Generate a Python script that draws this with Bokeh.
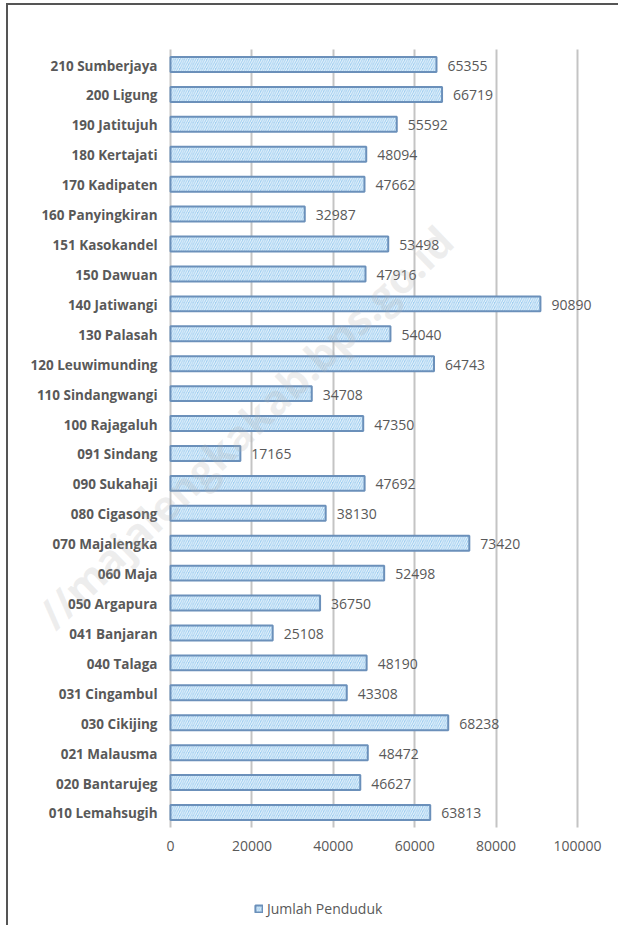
from bokeh.plotting import figure
from bokeh.models import (Range1d, Legend, LegendItem, Label,
                          FixedTicker, ColumnDataSource, BasicTickFormatter)
from bokeh.core.properties import value
from bokeh.embed import file_html
from bokeh.resources import INLINE

# ---- data (top to bottom as in the chart) ----
kecamatan = [
    "210 Sumberjaya", "200 Ligung", "190 Jatitujuh", "180 Kertajati",
    "170 Kadipaten", "160 Panyingkiran", "151 Kasokandel", "150 Dawuan",
    "140 Jatiwangi", "130 Palasah", "120 Leuwimunding", "110 Sindangwangi",
    "100 Rajagaluh", "091 Sindang", "090 Sukahaji", "080 Cigasong",
    "070 Majalengka", "060 Maja", "050 Argapura", "041 Banjaran",
    "040 Talaga", "031 Cingambul", "030 Cikijing", "021 Malausma",
    "020 Bantarujeg", "010 Lemahsugih",
]
jumlah_penduduk = [
    65355, 66719, 55592, 48094,
    47662, 32987, 53498, 47916,
    90890, 54040, 64743, 34708,
    47350, 17165, 47692, 38130,
    73420, 52498, 36750, 25108,
    48190, 43308, 68238, 48472,
    46627, 63813,
]
x_ticks = [0, 20000, 40000, 60000, 80000, 100000]
series_name = "Jumlah Penduduk"
watermark = "//majalengkakab.bps.go.id"

FONT = "Open Sans"
GREY = "#595959"

cats = kecamatan[::-1]           # bottom to top
vals = jumlah_penduduk[::-1]
pos = list(range(len(cats)))     # category slots, bottom = 0
src = ColumnDataSource(dict(y=pos, cat=cats, val=vals, txt=[str(v) for v in vals]))

p = figure(
    x_range=Range1d(-39803, 110566),
    y_range=Range1d(-3.844, 26.972),
    width=612, height=922,
    min_border=0,
    output_backend="svg", toolbar_location=None,
    styles={"border-top": "2px solid #555555", "border-left": "2px solid #555555",
            "margin-left": "6px", "margin-top": "3px"},
)
p.outline_line_color = None
p.background_fill_color = "white"

bars = p.hbar(
    y="y", right="val", left=0, height=0.5, source=src,
    fill_color="#9fcdef", line_color="#6b90ba", line_width=2,
    hatch_pattern="right_diagonal_line", hatch_color="#eef7fd",
    hatch_weight=1, hatch_scale=4.5,
)

# value labels
p.text(
    x="val", y="y", text="txt", source=src,
    x_offset=11, y_offset=1,
    text_align="left", text_baseline="middle",
    text_font=value(FONT), text_font_size="14px", text_color=GREY,
)

# category labels (left of the zero line)
p.text(
    x=0, y="y", text="cat", source=src,
    x_offset=-13, y_offset=1,
    text_align="right", text_baseline="middle",
    text_font=value(FONT), text_font_size="13.5px", text_font_style="bold",
    text_color=GREY,
)

p.yaxis.visible = False

# x axis sits just under the last category slot
xa = p.xaxis[0]
xa.fixed_location = -0.5
xa.ticker = FixedTicker(ticks=x_ticks)
xa.formatter = BasicTickFormatter(use_scientific=False)
xa.axis_line_color = None
xa.major_tick_line_color = None
xa.minor_tick_line_color = None
xa.major_label_standoff = 8
xa.major_label_text_font = FONT
xa.major_label_text_font_size = "14px"
xa.major_label_text_color = GREY

p.xgrid.ticker = FixedTicker(ticks=x_ticks)
p.xgrid.cross_bounds = (-0.5, len(cats) - 0.5)
p.xgrid.grid_line_color = "#c4c4c4"
p.xgrid.grid_line_width = 2
p.ygrid.grid_line_color = None

legend = Legend(
    items=[LegendItem(label=series_name, renderers=[bars])],
    location=(246, 9), orientation="horizontal",
    glyph_width=9, glyph_height=9, label_height=16, label_standoff=4,
    padding=3, margin=0, spacing=0,
    border_line_color=None, background_fill_alpha=0,
    label_text_font=FONT, label_text_font_size="14px", label_text_color=GREY,
)
p.add_layout(legend, "center")

wm = Label(
    x=-30958, y=6.43, text=watermark, angle=0.768,
    text_baseline="alphabetic",
    text_font=FONT, text_font_size="42px", text_font_style="bold",
    text_color="#b0b0b0", text_alpha=0.22,
)
p.add_layout(wm)

open("out.html", "w").write(file_html(p, INLINE))
